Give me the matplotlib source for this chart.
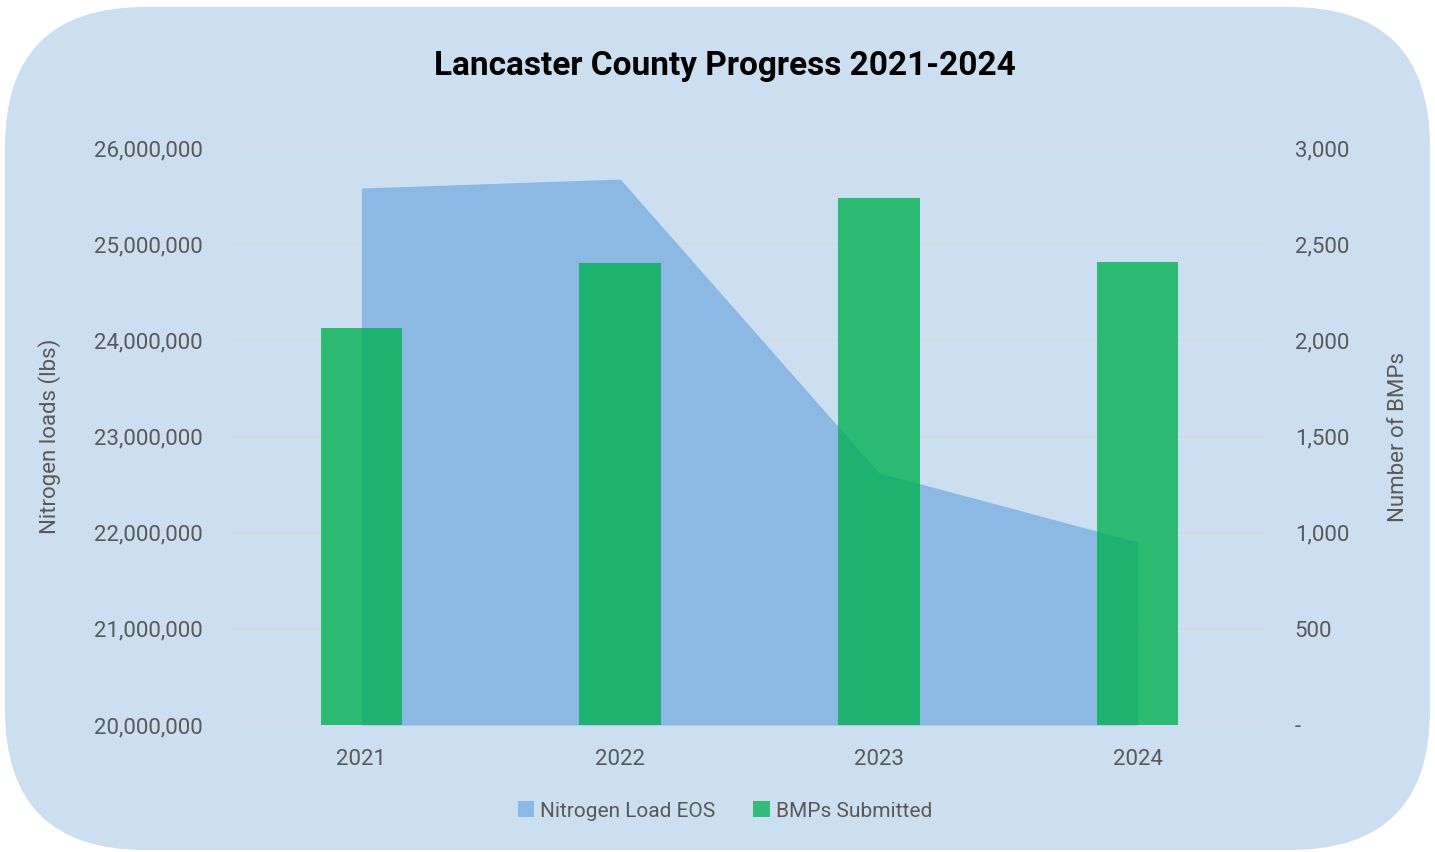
import matplotlib.pyplot as plt
from matplotlib.patches import FancyBboxPatch, Patch
from matplotlib.transforms import IdentityTransform
from matplotlib.ticker import FuncFormatter
import numpy as np

years = ["2021", "2022", "2023", "2024"]
nitrogen_load = [25584000, 25677000, 22623000, 21903000]
bmps_submitted = [2064, 2402, 2740, 2408]

plt.rcParams['font.family'] = ['Roboto', 'DejaVu Sans']
grey = '#595959'
bg = '#CCDFF0'

fig = plt.figure(figsize=(14.35, 8.52), dpi=100)
fig.patch.set_facecolor('white')

# rounded background card (pixel coords)
card = FancyBboxPatch((5 + 140, 2 + 140), 1425 - 280, 843 - 280,
                      boxstyle="round,pad=140", transform=IdentityTransform(),
                      facecolor=bg, edgecolor='none', zorder=-10)
fig.patches.append(card)

ax = fig.add_axes([232 / 1435, 127 / 852, 1035 / 1435, 577 / 852])
ax.set_facecolor('none')
x = np.arange(len(years))

ax.fill_between(x, nitrogen_load, 20000000, color='#8CB8E4', linewidth=0, zorder=2)
ax.set_ylim(20000000, 26000000)
ax.set_yticks(np.arange(20000000, 26000001, 1000000))
ax.yaxis.set_major_formatter(FuncFormatter(lambda v, p: f'{v:,.0f}'))
ax.grid(axis='y', color='#D9D9D9', linewidth=1.2, zorder=1)
ax.set_axisbelow(True)
ax.set_xlim(-0.5, 3.5)
ax.set_xticks(x)
ax.set_xticklabels(years)
ax.set_ylabel("Nitrogen loads (lbs)", fontsize=16, color=grey, labelpad=24)

ax2 = ax.twinx()
ax2.bar(x, bmps_submitted, width=0.315, color='#00B050', alpha=0.78, zorder=3)
ax2.set_ylim(0, 3000)
ax2.set_yticks(np.arange(0, 3001, 500))
ax2.yaxis.set_major_formatter(FuncFormatter(lambda v, p: '-' if v == 0 else f'{v:,.0f}'))
ax2.set_ylabel("Number of BMPs", fontsize=16, color=grey, labelpad=28)

for a in (ax, ax2):
    for s in a.spines.values():
        s.set_visible(False)
    a.tick_params(length=0, labelsize=16, labelcolor=grey)
ax.tick_params(axis='y', pad=21)
ax.tick_params(axis='x', pad=17)
ax2.tick_params(axis='y', pad=20)

fig.text(725 / 1435, 786 / 852, "Lancaster County Progress 2021-2024",
         ha='center', va='center', fontsize=24, fontweight='bold', color='black')

handles = [Patch(facecolor='#8CB8E4', label='Nitrogen Load EOS'),
           Patch(facecolor='#34BC77', label='BMPs Submitted')]
fig.legend(handles=handles, loc='center', bbox_to_anchor=(725 / 1435, 41 / 852), ncol=2,
           frameon=False, fontsize=15, labelcolor=grey, handlelength=0.8, handleheight=0.8,
           handletextpad=0.3, columnspacing=1.8)

fig.savefig("out.png", dpi=100)
